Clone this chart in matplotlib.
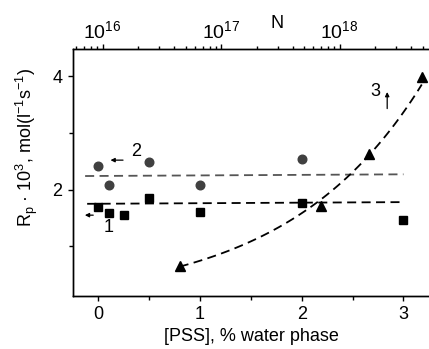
import matplotlib
matplotlib.use("Agg")
import numpy as np
import matplotlib.pyplot as plt
from matplotlib.ticker import MultipleLocator

plt.rcParams["font.family"] = ["Liberation Sans", "DejaVu Sans"]
plt.rcParams["mathtext.fontset"] = "custom"
plt.rcParams["mathtext.rm"] = "Liberation Sans"
plt.rcParams["mathtext.it"] = "Liberation Sans:italic"
plt.rcParams["mathtext.bf"] = "Liberation Sans:bold"

# --- datos ---
pss_1 = [0.0, 0.1, 0.25, 0.5, 1.0, 2.0, 3.0]       # serie 1 (cuadrados)
rp_1 = [1.69, 1.58, 1.55, 1.85, 1.61, 1.77, 1.46]
fit1_x = [-0.11, 3.0]
fit1_y = [1.75, 1.78]

pss_2 = [0.0, 0.1, 0.5, 1.0, 2.0]                   # serie 2 (circulos)
rp_2 = [2.42, 2.08, 2.49, 2.08, 2.54]
fit2_x = [-0.13, 3.0]
fit2_y = [2.24, 2.27]

pss_3 = [0.8, 2.19, 2.66, 3.18]                     # serie 3 (triangulos)
rp_3 = [0.66, 1.71, 2.62, 3.99]

# eje superior N (log): 10^16 en PSS=0.043, una decada = 1.165 unidades
N_ticks = [1e16, 1e17, 1e18]
PSS_AT_1E16 = 0.043
DECADE = 1.165

XLIM = (-0.252, 3.27)
YLIM = (0.13, 4.48)

fig = plt.figure(figsize=(4.29, 3.49), dpi=100)
ax = fig.add_axes([0.1695, 0.1527, 0.835, 0.707])

ax.plot(pss_1, rp_1, "s", color="black", ms=5.5, zorder=3)
ax.plot(fit1_x, fit1_y, color="black", lw=1.3, dashes=(5, 3))

ax.plot(pss_2, rp_2, "o", color="#404040", ms=6.2, zorder=3)
ax.plot(fit2_x, fit2_y, color="#555555", lw=1.3, dashes=(5, 3))

ax.plot(pss_3, rp_3, "^", color="black", ms=6.5, zorder=3)
# ajuste exponencial a los triangulos
c, lna = np.polyfit(pss_3, np.log(rp_3), 1)
xf = np.linspace(min(pss_3), max(pss_3), 100)
ax.plot(xf, np.exp(lna) * np.exp(c * xf), color="black", lw=1.3, dashes=(5, 3))

# etiquetas con flechas
arr = dict(arrowstyle="-|>", color="black", lw=0.9, mutation_scale=6)
ax.annotate("", xy=(0.092, 2.52), xytext=(0.27, 2.52), arrowprops=arr)
ax.text(0.37, 2.67, "2", fontsize=13, ha="center", va="center")
ax.annotate("", xy=(-0.16, 1.55), xytext=(-0.023, 1.55), arrowprops=arr)
ax.text(0.10, 1.34, "1", fontsize=13, ha="center", va="center")
ax.annotate("", xy=(2.84, 3.77), xytext=(2.84, 3.38), arrowprops=arr)
ax.text(2.72, 3.73, "3", fontsize=13, ha="center", va="center")

ax.set_xlim(XLIM)
ax.set_ylim(YLIM)
ax.xaxis.set_major_locator(MultipleLocator(1))
ax.xaxis.set_minor_locator(MultipleLocator(0.5))
ax.yaxis.set_major_locator(MultipleLocator(2))
ax.yaxis.set_minor_locator(MultipleLocator(1))
ax.tick_params(which="major", direction="out", length=3.8, width=1, labelsize=13)
ax.tick_params(which="minor", direction="out", length=2.8, width=1)
ax.tick_params(top=False, right=False, which="both")
ax.set_xlabel("[PSS], % water phase", fontsize=13, labelpad=4)
ax.set_ylabel("R$_\\mathregular{p}$ \u00b7 10$^\\mathregular{3}$, mol(l$^\\mathregular{-1}$s$^\\mathregular{-1}$)",
              fontsize=13)
ax.yaxis.set_label_coords(-0.09, 0.6)

# eje superior N
def pss_to_N(x):
    return 10 ** (16 + (x - PSS_AT_1E16) / DECADE)

top = ax.twiny()
top.set_xscale("log")
top.set_xlim(pss_to_N(XLIM[0]), pss_to_N(XLIM[1]))
top.set_xticks(N_ticks)
top.tick_params(which="major", direction="out", length=3.8, width=1, labelsize=14, pad=1)
top.tick_params(which="minor", direction="out", length=2.5, width=1)
fig.text(277 / 429, 1 - 23 / 349, "N", fontsize=13, ha="center", va="center")

for a in (ax, top):
    for s in a.spines.values():
        s.set_linewidth(1)

fig.savefig("out.png", dpi=100)
